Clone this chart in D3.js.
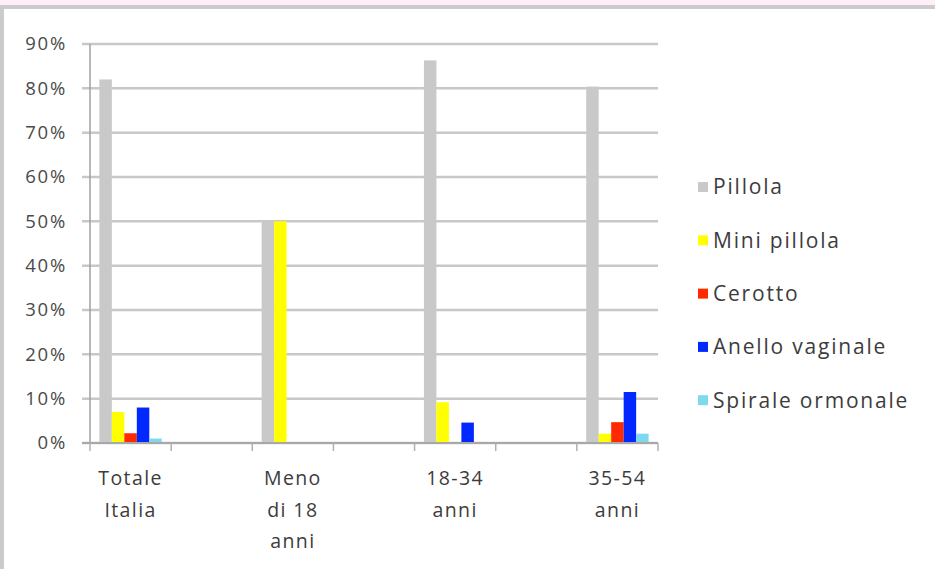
<!DOCTYPE html>
<html>
<head>
<meta charset="utf-8">
<script src="https://cdn.jsdelivr.net/npm/d3@7"></script>
<style>
  html, body { margin: 0; padding: 0; background: #fff; }
  svg { display: block; }
</style>
</head>
<body>
<div id="chart"></div>
<script>
// Categories (Excel hides every other label, the blank ones carry no bars)
const categories = [["Totale", "Italia"], [""], ["Meno", "di 18", "anni"], [""], ["18-34", "anni"], [""], ["35-54", "anni"]];
const seriesNames = ["Pillola", "Mini pillola", "Cerotto", "Anello vaginale", "Spirale ormonale"];
const seriesColors = ["#c9c9c9", "#ffff00", "#ff2a00", "#0028ff", "#7fd9ee"];

const pillola   = [82, 0, 50, 0, 86.3, 0, 80.4];
const mini      = [7, 0, 50, 0, 9.2, 0, 2.1];
const cerotto   = [2.2, 0, 0, 0, 0, 0, 4.7];
const anello    = [8, 0, 0, 0, 4.6, 0, 11.5];
const spirale   = [1, 0, 0, 0, 0, 0, 2.1];
const seriesValues = [pillola, mini, cerotto, anello, spirale];

const yTicks = [0, 10, 20, 30, 40, 50, 60, 70, 80, 90];

const width = 935, height = 569;
const plot = { left: 90, right: 658, top: 44, bottom: 443 };

const svg = d3.select("#chart").append("svg")
  .attr("width", width)
  .attr("height", height)
  .style("font-family", "'Open Sans', Lato, sans-serif");

// Frame like the screenshot (pink strip, gray top & left border)
svg.append("rect").attr("x", 0).attr("y", 0).attr("width", width).attr("height", 5).attr("fill", "#fdeef8");
svg.append("rect").attr("x", 0).attr("y", 5).attr("width", width).attr("height", 4).attr("fill", "#cbcbcb");
svg.append("rect").attr("x", 0).attr("y", 5).attr("width", 4).attr("height", height).attr("fill", "#cbcbcb");

const y = d3.scaleLinear().domain([0, 90]).range([plot.bottom, plot.top]);
const x0 = d3.scaleBand().domain(d3.range(categories.length)).range([plot.left, plot.right]).paddingInner(0).paddingOuter(0);
// Excel gap width 150%: group = 5 bars + 1.5 bar width
const groupW = x0.bandwidth() * 5 / 6.5;
const x1 = d3.scaleBand().domain(d3.range(seriesNames.length)).range([0, groupW]);

// Gridlines
svg.append("g")
  .selectAll("line")
  .data(yTicks)
  .join("line")
  .attr("x1", plot.left - 8)
  .attr("x2", plot.right)
  .attr("y1", d => y(d))
  .attr("y2", d => y(d))
  .attr("stroke", "#c8c8c8")
  .attr("stroke-width", 2.5);

// Y axis labels
svg.append("g")
  .selectAll("text")
  .data(yTicks)
  .join("text")
  .attr("x", 67)
  .attr("y", d => y(d))
  .attr("dy", "0.35em")
  .attr("text-anchor", "end")
  .attr("fill", "#4a4a4a")
  .style("font-size", "18.5px")
  .style("letter-spacing", "1.8px")
  .text(d => d + "%");

// Bars
const groups = svg.append("g")
  .selectAll("g")
  .data(categories.map((c, i) => i))
  .join("g")
  .attr("transform", i => `translate(${x0(i) + (x0.bandwidth() - groupW) / 2},0)`);

groups.selectAll("rect")
  .data(i => seriesValues.map((vals, s) => ({ s, v: vals[i] })))
  .join("rect")
  .attr("x", d => x1(d.s))
  .attr("width", x1.bandwidth())
  .attr("y", d => y(d.v))
  .attr("height", d => plot.bottom - y(d.v))
  .attr("fill", d => seriesColors[d.s]);

// Axes lines
svg.append("line")
  .attr("x1", plot.left).attr("x2", plot.left)
  .attr("y1", plot.top).attr("y2", plot.bottom + 1)
  .attr("stroke", "#a0a0a0").attr("stroke-width", 1.5);
svg.append("line")
  .attr("x1", plot.left - 8).attr("x2", plot.right)
  .attr("y1", plot.bottom).attr("y2", plot.bottom)
  .attr("stroke", "#a8a8a8").attr("stroke-width", 2);

// X category ticks
svg.append("g")
  .selectAll("line")
  .data(d3.range(categories.length + 1))
  .join("line")
  .attr("x1", i => plot.left + i * x0.bandwidth())
  .attr("x2", i => plot.left + i * x0.bandwidth())
  .attr("y1", plot.bottom)
  .attr("y2", plot.bottom + 8)
  .attr("stroke", "#b0b0b0")
  .attr("stroke-width", 1.5);

// X labels
svg.append("g")
  .selectAll("text")
  .data(categories.map((c, i) => ({ c, i })))
  .join("text")
  .attr("text-anchor", "middle")
  .attr("fill", "#3c3c3c")
  .style("font-size", "19.5px")
  .style("letter-spacing", "1.4px")
  .each(function(d) {
    d3.select(this).selectAll("tspan")
      .data(d.c)
      .join("tspan")
      .attr("x", x0(d.i) + x0.bandwidth() / 2)
      .attr("y", (t, k) => 485 + k * 31.5)
      .text(t => t);
  });

// Legend
const legend = svg.append("g")
  .selectAll("g")
  .data(seriesNames.map((n, s) => ({ n, s })))
  .join("g")
  .attr("transform", d => `translate(698,${187 + d.s * 53.3})`);

legend.append("rect")
  .attr("x", 0).attr("y", -5)
  .attr("width", 10).attr("height", 10)
  .attr("fill", d => seriesColors[d.s]);

legend.append("text")
  .attr("x", 15)
  .attr("dy", "0.35em")
  .attr("fill", "#3c3c3c")
  .style("font-size", "21px")
  .style("letter-spacing", "1.8px")
  .text(d => d.n);
</script>
</body>
</html>
